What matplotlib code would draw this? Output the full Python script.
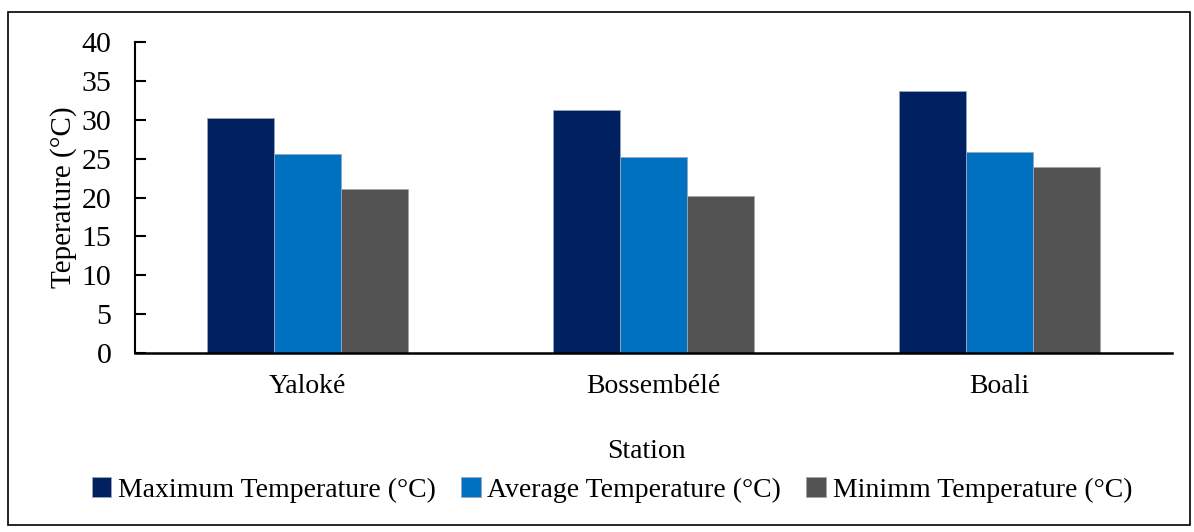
import matplotlib
matplotlib.use("Agg")
import matplotlib.pyplot as plt
import numpy as np
from matplotlib.patches import Rectangle

stations = ["Yaloké", "Bossembélé", "Boali"]
max_temp = [30.2, 31.2, 33.7]
avg_temp = [25.6, 25.2, 25.8]
min_temp = [21.1, 20.2, 23.9]
series_names = ["Maximum Temperature (°C)", "Average Temperature (°C)", "Minimm Temperature (°C)"]
colors = ["#002060", "#0070C0", "#535353"]

plt.rcParams['font.family'] = ['Liberation Serif', 'DejaVu Serif']

fig = plt.figure(figsize=(11.94, 5.32), dpi=100)
ax = fig.add_axes([135/1194, 1-353/532, (1172-135)/1194, (353-42)/532])

x = np.arange(len(stations))
w = 0.194
for i, (vals, name, c) in enumerate(zip([max_temp, avg_temp, min_temp], series_names, colors)):
    ax.bar(x + (i-1)*w, vals, width=w, color=c, label=name, edgecolor='#9aa6b8', linewidth=0.6)

ax.set_xlim(-0.5, 2.5)
ax.set_ylim(0, 40)
ax.set_yticks(range(0, 41, 5))
ax.set_xticks(x)
ax.set_xticklabels(stations)
ax.tick_params(axis='y', labelsize=21.5, length=8, width=1.5, direction='in', pad=17)
ax.tick_params(axis='x', labelsize=20, length=0, pad=15)
for s in ['top', 'right']:
    ax.spines[s].set_visible(False)
ax.spines['left'].set_linewidth(1.5)
ax.spines['bottom'].set_linewidth(1.8)

ax.set_ylabel("Teperature (°C)", fontsize=21, labelpad=3)
fig.text(646/1194, 1-452/532, "Station", ha='center', va='center', fontsize=20)

handles, labels = ax.get_legend_handles_labels()
fig.legend(handles, labels, loc='center', bbox_to_anchor=(612/1194, 1-490/532), ncol=3,
           frameon=False, fontsize=20, handlelength=0.7, handleheight=0.7,
           handletextpad=0.25, columnspacing=0.9)

fig.add_artist(Rectangle((8/1194, 1-525/532), (1190-8)/1194, (525-12)/532,
                         transform=fig.transFigure, fill=False, edgecolor='black', linewidth=1.2))

fig.savefig("out.png", dpi=100)
